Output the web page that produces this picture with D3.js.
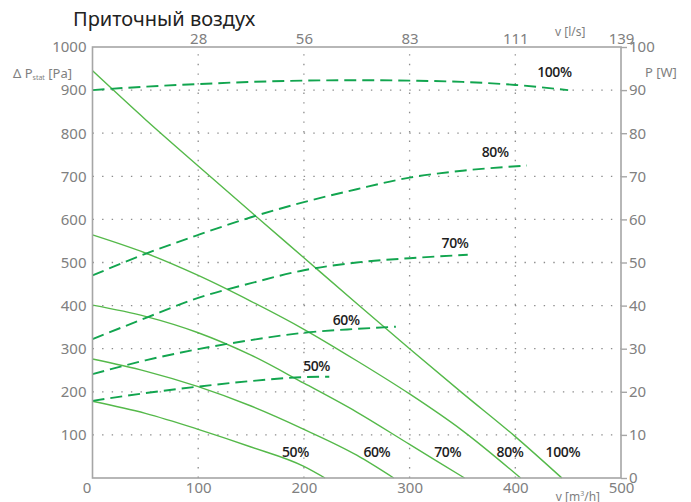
<!DOCTYPE html>
<html>
<head>
<meta charset="utf-8">
<script src="https://cdn.jsdelivr.net/npm/d3@7/dist/d3.min.js"></script>
<style>
  body { margin: 0; background: #fff; }
  text { font-family: "Noto Sans", sans-serif; }
</style>
</head>
<body>
<svg id="chart" width="691" height="502"></svg>
<script>
// axis ticks
var flowTicks = [0, 100, 200, 300, 400, 500];          // m3/h
var litreTicks = [28, 56, 83, 111, 139];                // l/s
var pressureTicks = [100, 200, 300, 400, 500, 600, 700, 800, 900, 1000];
var powerTicks = [0, 10, 20, 30, 40, 50, 60, 70, 80, 90, 100];

var speeds = ['50%', '60%', '70%', '80%', '100%'];

// static pressure [Pa] vs flow [m3/h]
var pressure50 = [[0, 178], [50, 150], [100, 113], [150, 72], [200, 27], [220, 0]];
var pressure60 = [[0, 276], [50, 248], [100, 212], [150, 167], [200, 113], [250, 53], [285, 0]];
var pressure70 = [[0, 401], [50, 375], [100, 337], [150, 285], [200, 220], [250, 153], [300, 78], [352, 0]];
var pressure80 = [[0, 564], [50, 522], [100, 470], [150, 410], [200, 345], [250, 272], [300, 195], [350, 110], [405, 0]];
var pressure100 = [[0, 945], [50, 832], [100, 724], [150, 617], [200, 511], [250, 405], [300, 300], [350, 197], [400, 96], [444, 0]];

// power [W] vs flow [m3/h]
var power50 = [[0, 17.9], [50, 19.7], [100, 21.2], [150, 22.5], [200, 23.4], [224, 23.5]];
var power60 = [[0, 24.1], [50, 27.3], [100, 29.9], [150, 32], [200, 33.7], [250, 34.6], [287, 35.1]];
var power70 = [[0, 32.2], [50, 37.1], [100, 41.8], [150, 45.2], [200, 48.2], [250, 50], [300, 51], [355, 51.8]];
var power80 = [[0, 47], [50, 52], [100, 56.4], [150, 60.5], [200, 64], [250, 67], [300, 69.7], [350, 71.3], [411, 72.5]];
var power100 = [[0, 90], [50, 90.8], [100, 91.4], [150, 91.9], [200, 92.2], [250, 92.3], [300, 92.2], [350, 91.9], [400, 91.2], [450, 90]];

var pressureCurves = [pressure50, pressure60, pressure70, pressure80, pressure100];
var powerCurves = [power50, power60, power70, power80, power100];

var svg = d3.select('#chart');
var plotLeft = 92.5, plotRight = 621, plotTop = 47, plotBottom = 478;

var x = d3.scaleLinear().domain([0, 500]).range([plotLeft, plotRight]);
var xTop = d3.scaleLinear().domain([0, 500 / 3.6]).range([plotLeft, plotRight]);
var y = d3.scaleLinear().domain([0, 1000]).range([plotBottom, plotTop]);
var yPow = d3.scaleLinear().domain([0, 100]).range([plotBottom, plotTop]);

var axisColor = '#a6a6a6';
var labelColor = '#808080';

// grid
var grid = svg.append('g').attr('class', 'grid')
  .attr('stroke', '#8c8c8c').attr('stroke-width', 1.3)
  .attr('stroke-dasharray', '1.4,8.2').attr('stroke-linecap', 'butt');

grid.selectAll('line.v')
  .data(flowTicks.filter(function(d) { return d > 0 && d < 500; }))
  .enter().append('line')
  .attr('class', 'v')
  .attr('x1', x).attr('x2', x)
  .attr('y1', plotBottom).attr('y2', plotTop);

grid.selectAll('line.h')
  .data(pressureTicks.filter(function(d) { return d < 1000; }))
  .enter().append('line')
  .attr('class', 'h')
  .attr('x1', plotLeft).attr('x2', plotRight)
  .attr('y1', y).attr('y2', y);

// curves
var line = d3.line()
  .x(function(d) { return x(d[0]); })
  .y(function(d) { return y(d[1]); })
  .curve(d3.curveMonotoneX);

var powerLine = d3.line()
  .x(function(d) { return x(d[0]); })
  .y(function(d) { return yPow(d[1]); })
  .curve(d3.curveMonotoneX);

svg.append('g').selectAll('path')
  .data(pressureCurves)
  .enter().append('path')
  .attr('d', line)
  .attr('fill', 'none')
  .attr('stroke', '#55b94a')
  .attr('stroke-width', 1.4);

svg.append('g').selectAll('path')
  .data(powerCurves)
  .enter().append('path')
  .attr('d', powerLine)
  .attr('fill', 'none')
  .attr('stroke', '#12a54f')
  .attr('stroke-width', 1.9)
  .attr('stroke-dasharray', '12,6');

// frame
svg.append('rect')
  .attr('x', plotLeft).attr('y', plotTop)
  .attr('width', plotRight - plotLeft).attr('height', plotBottom - plotTop)
  .attr('fill', 'none')
  .attr('stroke', axisColor)
  .attr('stroke-width', 1.6);

// axes
function styleAxis(g) {
  g.select('.domain').remove();
  g.selectAll('.tick line').attr('stroke', axisColor).attr('stroke-width', 1.4);
  g.selectAll('.tick text')
    .attr('fill', labelColor)
    .style('font-size', '15px')
    .style('font-family', '"Noto Sans", sans-serif');
}

svg.append('g')
  .attr('transform', 'translate(' + plotLeft + ',0)')
  .call(d3.axisLeft(y).tickValues(pressureTicks).tickFormat(d3.format('d')).tickSize(0).tickPadding(6))
  .call(styleAxis);

svg.append('g')
  .attr('transform', 'translate(' + plotRight + ',0)')
  .call(d3.axisRight(yPow).tickValues(powerTicks).tickFormat(d3.format('d')).tickSize(6).tickPadding(2))
  .call(styleAxis);

var xAxisG = svg.append('g')
  .attr('transform', 'translate(0,' + plotBottom + ')')
  .call(d3.axisBottom(x).tickValues(flowTicks).tickFormat(d3.format('d')).tickSize(0).tickPadding(4))
  .call(styleAxis);
xAxisG.selectAll('.tick text').attr('dx', function(d) { return d === 0 ? -6 : 0; });

svg.append('g')
  .attr('transform', 'translate(0,' + plotTop + ')')
  .call(d3.axisTop(xTop).tickValues(litreTicks.map(function(d, i) { return flowTicks[i + 1] / 3.6; }))
    .tickFormat(function(d, i) { return litreTicks[i]; })
    .tickSize(0).tickPadding(3))
  .call(styleAxis);

// axis titles
var pLabel = svg.append('text')
  .attr('x', 72).attr('y', 78)
  .attr('text-anchor', 'end')
  .attr('fill', labelColor)
  .style('font-size', '13px');
pLabel.append('tspan').text('Δ P');
pLabel.append('tspan').text('stat').style('font-size', '7px').attr('dy', 2);
pLabel.append('tspan').text(' [Pa]').attr('dy', -2);

svg.append('text')
  .attr('x', 645).attr('y', 77)
  .attr('fill', labelColor)
  .style('font-size', '13px')
  .text('P [W]');

svg.append('text')
  .attr('x', 555).attr('y', 36)
  .attr('fill', labelColor)
  .style('font-size', '12px')
  .text('v [l/s]');

var vLabel = svg.append('text')
  .attr('x', 600).attr('y', 501)
  .attr('text-anchor', 'end')
  .attr('fill', labelColor)
  .style('font-size', '12px');
vLabel.append('tspan').text('v [m');
vLabel.append('tspan').text('3').style('font-size', '7px').attr('dy', -5);
vLabel.append('tspan').text('/h]').attr('dy', 5);

// title
svg.append('text')
  .attr('x', 73).attr('y', 26)
  .attr('fill', '#222')
  .style('font-size', '20px')
  .text('Приточный воздух');

// curve labels (flow m3/h, pressure Pa)
var powerLabels = [[212, 260], [240, 366], [343, 544], [381, 755], [437, 942]];
var pressureLabels = [[192, 60], [269, 60], [336, 60], [395, 60], [445, 60]];

function drawLabels(points) {
  svg.append('g').selectAll('text')
    .data(points)
    .enter().append('text')
    .attr('x', function(d) { return x(d[0]); })
    .attr('y', function(d) { return y(d[1]); })
    .attr('dy', '0.35em')
    .attr('text-anchor', 'middle')
    .attr('fill', '#1e1e1e')
    .style('font-family', '"Open Sans", sans-serif')
    .style('font-weight', 600)
    .style('font-size', '14px')
    .style('letter-spacing', '-0.4px')
    .text(function(d, i) { return speeds[i]; });
}
drawLabels(powerLabels);
drawLabels(pressureLabels);
</script>
</body>
</html>
